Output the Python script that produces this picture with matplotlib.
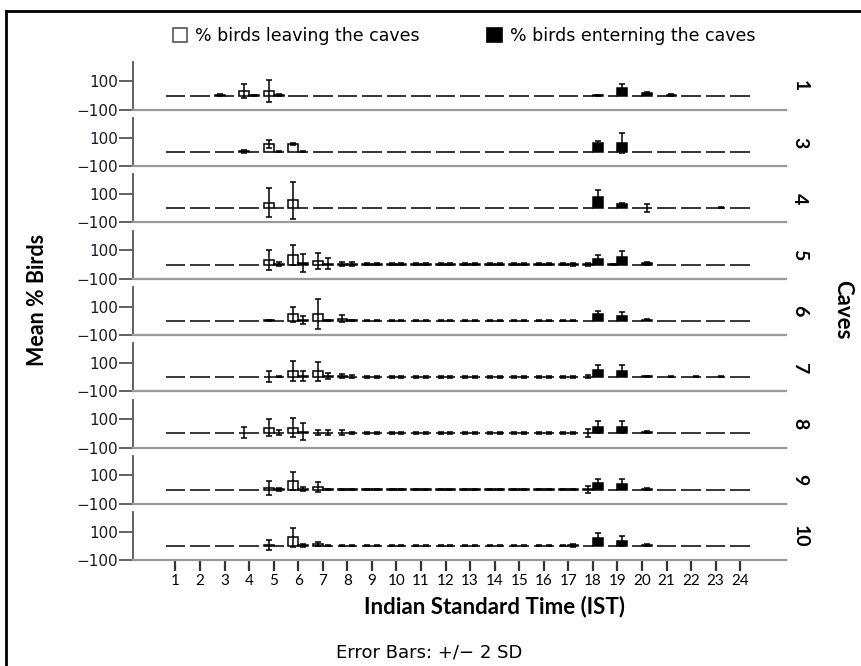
import numpy as np
import matplotlib
matplotlib.use('Agg')
import matplotlib.pyplot as plt
from matplotlib import font_manager
from matplotlib.patches import Patch
from matplotlib.lines import Line2D

hours = [1, 2, 3, 4, 5, 6, 7, 8, 9, 10, 11, 12, 13, 14, 15, 16, 17, 18, 19, 20, 21, 22, 23, 24]
caves = ['1', '3', '4', '5', '6', '7', '8', '9', '10']

# mean % of birds leaving, one row per cave
leave_mean = [
    [0, 0, 3, 35, 32, 0, 0, 0, 0, 0, 0, 0, 0, 0, 0, 0, 0, 0, 0, 0, 0, 0, 0, 0],
    [0, 0, 0, 4, 55, 55, 0, 0, 0, 0, 0, 0, 0, 0, 0, 0, 0, 0, 0, 0, 0, 0, 0, 0],
    [0, 0, 0, 0, 40, 55, 0, 0, 0, 0, 0, 0, 0, 0, 0, 0, 0, 0, 0, 0, 0, 0, 0, 0],
    [0, 0, 0, 0, 30, 65, 25, 5, 2, 2, 2, 2, 2, 2, 2, 2, 2, 3, 2, 0, 0, 0, 0, 0],
    [0, 0, 0, 0, 2, 45, 45, 15, 1, 1, 1, 1, 1, 1, 1, 1, 1, 0, 0, 0, 0, 0, 0, 0],
    [0, 0, 0, 0, 3, 40, 40, 5, 1, 1, 1, 1, 1, 1, 1, 1, 1, 2, 0, 0, 0, 0, 0, 0],
    [0, 0, 0, 5, 40, 40, 5, 5, 2, 2, 2, 2, 2, 2, 2, 2, 2, 2, 0, 0, 0, 0, 0, 0],
    [0, 0, 0, 0, 10, 60, 15, 2, 1, 1, 1, 1, 1, 1, 1, 1, 1, 2, 0, 0, 0, 0, 0, 0],
    [0, 0, 0, 0, 3, 60, 15, 1, 1, 1, 1, 1, 1, 1, 1, 1, 1, 0, 0, 0, 0, 0, 0, 0],
]
# +/- 2 SD for leaving
leave_2sd = [
    [0, 0, 6, 48, 75, 0, 0, 0, 0, 0, 0, 0, 0, 0, 0, 0, 0, 0, 0, 0, 0, 0, 0, 0],
    [0, 0, 0, 12, 30, 5, 0, 0, 0, 0, 0, 0, 0, 0, 0, 0, 0, 0, 0, 0, 0, 0, 0, 0],
    [0, 0, 0, 0, 100, 130, 0, 0, 0, 0, 0, 0, 0, 0, 0, 0, 0, 0, 0, 0, 0, 0, 0, 0],
    [0, 0, 0, 0, 70, 70, 55, 15, 8, 8, 8, 8, 8, 8, 8, 8, 8, 10, 5, 0, 0, 0, 0, 0],
    [0, 0, 0, 0, 5, 55, 105, 25, 4, 4, 4, 4, 4, 4, 4, 4, 4, 0, 0, 0, 0, 0, 0, 0],
    [0, 0, 0, 0, 38, 70, 65, 15, 5, 5, 5, 5, 5, 5, 5, 5, 5, 10, 0, 0, 0, 0, 0, 0],
    [0, 0, 0, 40, 60, 65, 20, 15, 6, 6, 6, 6, 6, 6, 6, 6, 6, 25, 0, 0, 0, 0, 0, 0],
    [0, 0, 0, 0, 50, 60, 35, 5, 4, 4, 4, 4, 4, 4, 4, 4, 4, 25, 0, 0, 0, 0, 0, 0],
    [0, 0, 0, 0, 35, 65, 15, 3, 3, 3, 3, 3, 3, 3, 3, 3, 3, 0, 0, 0, 0, 0, 0, 0],
]
# mean % of birds entering
enter_mean = [
    [0, 0, 0, 3, 4, 0, 0, 0, 0, 0, 0, 0, 0, 0, 0, 0, 0, 2, 55, 18, 5, 0, 0, 0],
    [0, 0, 0, 0, 3, 2, 0, 0, 0, 0, 0, 0, 0, 0, 0, 0, 0, 65, 65, 0, 0, 0, 0, 0],
    [0, 0, 0, 0, 0, 0, 0, 0, 0, 0, 0, 0, 0, 0, 0, 0, 0, 80, 30, 2, 0, 0, 5, 0],
    [0, 0, 0, 0, 3, 10, 5, 5, 2, 2, 2, 2, 2, 2, 2, 2, 3, 40, 50, 10, 0, 0, 0, 0],
    [0, 0, 0, 0, 0, 5, 3, 3, 1, 1, 1, 1, 1, 1, 1, 1, 1, 45, 35, 8, 0, 0, 0, 0],
    [0, 0, 0, 0, 2, 5, 5, 3, 1, 1, 1, 1, 1, 1, 1, 1, 2, 50, 45, 5, 2, 2, 2, 0],
    [0, 0, 0, 0, 5, 10, 5, 2, 2, 2, 2, 2, 2, 2, 2, 2, 2, 45, 45, 8, 0, 0, 0, 0],
    [0, 0, 0, 0, 3, 5, 2, 2, 1, 1, 1, 1, 1, 1, 1, 1, 1, 45, 40, 5, 0, 0, 0, 0],
    [0, 0, 0, 0, 0, 5, 2, 1, 1, 1, 1, 1, 1, 1, 1, 2, 3, 55, 35, 5, 0, 0, 0, 0],
]
# +/- 2 SD for entering
enter_2sd = [
    [0, 0, 0, 5, 6, 0, 0, 0, 0, 0, 0, 0, 0, 0, 0, 0, 0, 5, 25, 6, 8, 0, 0, 0],
    [0, 0, 0, 0, 4, 3, 0, 0, 0, 0, 0, 0, 0, 0, 0, 0, 0, 15, 70, 0, 0, 0, 0, 0],
    [0, 0, 0, 0, 0, 0, 0, 0, 0, 0, 0, 0, 0, 0, 0, 0, 0, 50, 5, 25, 0, 0, 3, 0],
    [0, 0, 0, 0, 15, 65, 40, 15, 8, 8, 8, 8, 8, 8, 8, 8, 10, 30, 45, 10, 0, 0, 0, 0],
    [0, 0, 0, 0, 0, 30, 5, 5, 4, 4, 4, 4, 4, 4, 4, 4, 4, 25, 25, 5, 0, 0, 0, 0],
    [0, 0, 0, 0, 5, 35, 20, 8, 5, 5, 5, 5, 5, 5, 5, 5, 8, 35, 40, 5, 3, 3, 3, 0],
    [0, 0, 0, 0, 15, 60, 20, 5, 6, 6, 6, 6, 6, 6, 6, 6, 6, 40, 40, 6, 0, 0, 0, 0],
    [0, 0, 0, 0, 10, 15, 5, 5, 4, 4, 4, 4, 4, 4, 4, 4, 4, 30, 35, 5, 0, 0, 0, 0],
    [0, 0, 0, 0, 0, 10, 3, 3, 3, 3, 3, 3, 3, 3, 3, 5, 10, 35, 35, 5, 0, 0, 0, 0],
]


def pick_font(names):
    for n in names:
        try:
            font_manager.findfont(font_manager.FontProperties(family=n), fallback_to_default=False)
            return n
        except ValueError:
            pass
    return 'DejaVu Sans'


narrow = pick_font(['Liberation Sans Narrow', 'Lato'])
label_font = pick_font(['Lato'])

fig = plt.figure(figsize=(8.61, 6.66), dpi=100)
gs = fig.add_gridspec(len(caves), 1, left=0.1545, right=0.913, bottom=0.159, top=0.907, hspace=0.172)

x = np.array(hours)
w = 0.4
for i, cave in enumerate(caves):
    ax = fig.add_subplot(gs[i])
    lm = np.array(leave_mean[i], dtype=float)
    ls = np.array(leave_2sd[i], dtype=float)
    em = np.array(enter_mean[i], dtype=float)
    es = np.array(enter_2sd[i], dtype=float)

    ax.bar(x - w / 2, lm, w, color='white', edgecolor='black', linewidth=1.1, zorder=2)
    ax.bar(x + w / 2, em, w, color='black', edgecolor='black', linewidth=1.1, zorder=2)
    ml = ls > 0
    me = es > 0
    ax.errorbar(x[ml] - w / 2, lm[ml], yerr=ls[ml], fmt='none', ecolor='black',
                elinewidth=1.1, capsize=2, capthick=1.1, zorder=3)
    ax.errorbar(x[me] + w / 2, em[me], yerr=es[me], fmt='none', ecolor='black',
                elinewidth=1.1, capsize=2, capthick=1.1, zorder=3)

    ax.set_xlim(-0.73, 25.87)
    ax.set_ylim(-100, 237)
    ax.set_yticks([-100, 100])
    ax.set_yticklabels(['\u2212100', '100'], fontsize=11, color='#1a1a2e')
    ax.spines['top'].set_visible(False)
    ax.spines['right'].set_visible(False)
    ax.spines['left'].set_color('#555555')
    ax.spines['left'].set_linewidth(1.3)
    ax.spines['bottom'].set_color('#9a9a9a')
    ax.spines['bottom'].set_linewidth(1.6)
    ax.tick_params(axis='y', length=10, width=1.3, color='#555555', pad=1)
    ax.set_xticks(hours)
    if i == len(caves) - 1:
        ax.tick_params(axis='x', length=8, width=1.6, color='#333333', pad=2)
        ax.set_xticklabels([str(h) for h in hours], fontsize=11, family=narrow)
    else:
        ax.tick_params(axis='x', bottom=False, labelbottom=False)

    ax.text(1.021, 0.5, cave, transform=ax.transAxes, rotation=270, ha='center',
            va='center', fontsize=14, fontweight='bold', family=label_font)

# legend
handles = [Patch(facecolor='white', edgecolor='#555555', linewidth=1.2),
           Patch(facecolor='black', edgecolor='black', linewidth=1.2)]
fig.legend(handles, ['% birds leaving the caves', '% birds enterning the caves'],
           loc='center', bbox_to_anchor=(0.539, 0.946), ncol=2, frameon=False,
           fontsize=12.5, handlelength=0.85, handleheight=0.85, handletextpad=0.45,
           columnspacing=3.9)

fig.text(0.044, 0.55, 'Mean % Birds', rotation=90, ha='center', va='center',
         fontsize=15.5, fontweight='bold', family=label_font)
fig.text(0.979, 0.535, 'Caves', rotation=270, ha='center', va='center',
         fontsize=16, fontweight='bold', family=label_font)
fig.text(0.574, 0.0886, 'Indian Standard Time (IST)', ha='center', va='center',
         fontsize=16, fontweight='bold', family=label_font)
fig.text(0.498, 0.021, 'Error Bars: +/\u2212 2 SD', ha='center', va='center', fontsize=13)

# outer frame
fig.add_artist(Line2D([6 / 861, 1], [1 - 11 / 666, 1 - 11 / 666], color='black',
                      linewidth=2, transform=fig.transFigure))
fig.add_artist(Line2D([6 / 861, 6 / 861], [0, 1 - 11 / 666], color='black',
                      linewidth=2, transform=fig.transFigure))

fig.savefig('out.png', dpi=100)
